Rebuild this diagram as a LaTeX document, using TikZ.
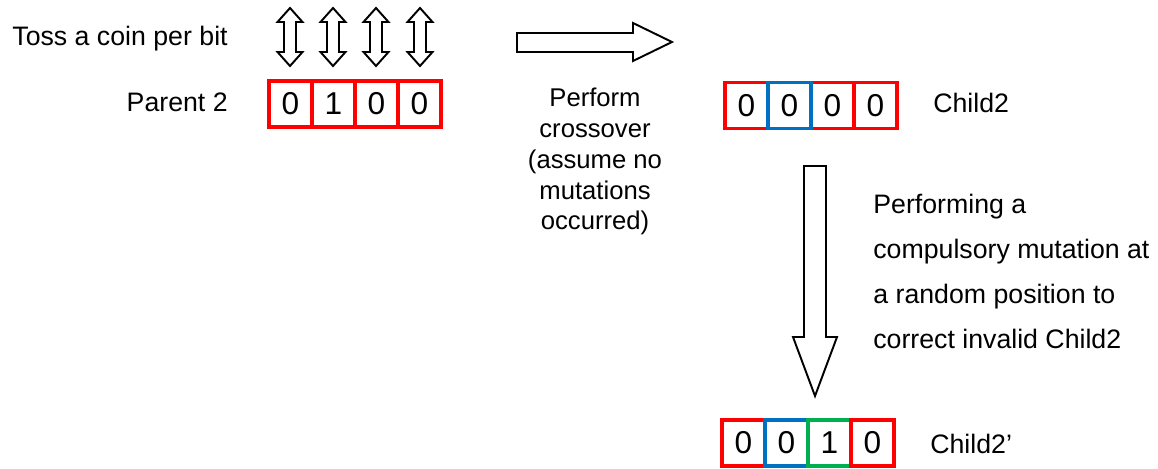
\documentclass[tikz,border=0pt]{standalone}
\usepackage{fontspec}
\setmainfont{Liberation Sans}
\usetikzlibrary{positioning}

\definecolor{bitred}{RGB}{255,0,0}
\definecolor{bitblue}{RGB}{0,112,192}
\definecolor{bitgreen}{RGB}{0,176,80}

\tikzset{
    bit/.style={draw, line width=2.2pt, outer sep=0pt, inner sep=0pt,
        minimum width=0.86cm, minimum height=0.92cm,
        font=\fontsize{18}{18}\selectfont},
    txt/.style={inner sep=0pt, font=\fontsize{15.2}{17}\selectfont},
    hollow/.style={draw, line width=1.1pt, fill=white, line join=miter}
}

\begin{document}
\begin{tikzpicture}[x=0.02cm, y=-0.02cm]
    \useasboundingbox (0,0) rectangle (1158,469);

    %% labels on the left
    \node[txt, anchor=base east] (toss) at (228,46) {Toss a coin per bit};
    \node[txt, anchor=base east] (parent) at (228,112) {Parent 2};

    %% parent bits
    \foreach \v/\c [count=\i] in {0/bitred,1/bitred,0/bitred,0/bitred}
        \node[bit, draw=\c] (par\i) at ({247.5+43*\i},104) {\v};

    % one coin toss per bit
    \foreach \x in {290,333,376,420}
        \draw[hollow] (\x-6,22) -- (\x-12.5,22) -- (\x,8) -- (\x+12.5,22)
            -- (\x+6,22) -- (\x+6,52) -- (\x+12.5,52) -- (\x,66)
            -- (\x-12.5,52) -- (\x-6,52) -- cycle;

    %% crossover step
    \draw[hollow] (517,33) -- (633,33) -- (633,23) -- (672,42)
        -- (633,61) -- (633,52) -- (517,52) -- cycle;
    \node[txt, align=center, anchor=north, font=\fontsize{14.6}{17.5}\selectfont]
        (cross) at (595,88)
        {Perform\\crossover\\(assume no\\mutations\\occurred)};

    %% child after crossover
    \node[bit, draw=bitred] (ch1) at (746.5,105.5) {0};
    \node[bit, draw=bitred, right=0pt of ch1] (ch3) [xshift=0.86cm] {0};
    \node[bit, draw=bitred, right=0pt of ch3] (ch4) {0};
    \node[bit, draw=bitblue, right=0pt of ch1] (ch2) {0};
    \node[txt, anchor=base west] (child) at (933,113) {Child2};

    %% mutation step
    \draw[hollow] (804,166) -- (826,166) -- (826,337) -- (837,337)
        -- (815,396) -- (793,337) -- (804,337) -- cycle;
    \node[txt, align=left, anchor=north west,
          font=\fontsize{15.2}{25.5}\selectfont] (mut) at (873,194)
        {Performing a\\compulsory mutation at\\a random position to\\correct invalid Child2};

    %% child after mutation
    \foreach \v/\c [count=\i] in {0/bitred,0/bitblue,1/bitgreen,0/bitred}
        \node[bit, draw=\c] (mt\i) at ({700.5+43*\i},443) {\v};
    \node[txt, anchor=base west] (childm) at (930,453) {Child2’};
\end{tikzpicture}
\end{document}
